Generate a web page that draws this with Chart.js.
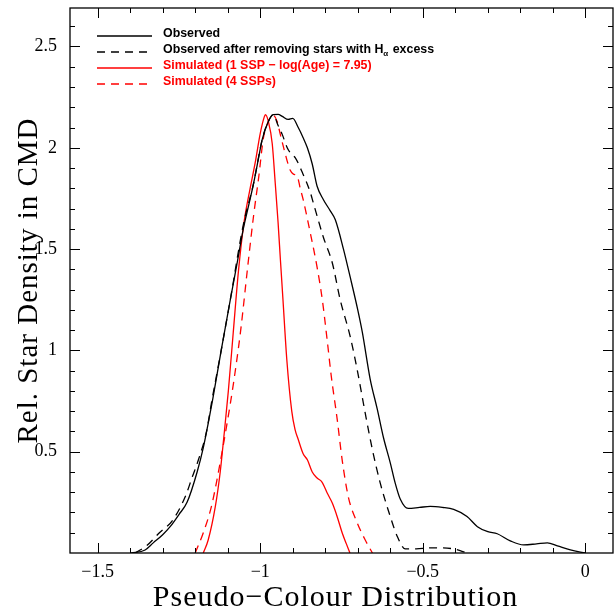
<!DOCTYPE html>
<html>
<head>
<meta charset="utf-8">
<script src="https://cdn.jsdelivr.net/npm/chart.js@4/dist/chart.umd.min.js"></script>
<style>
  html, body { margin: 0; padding: 0; background: #fff; }
  canvas { display: block; }
</style>
</head>
<body>
<canvas id="c" width="614" height="608"></canvas>
<script>
// Observed
const obsX = [-1.397, -1.354, -1.329, -1.300, -1.277, -1.250, -1.225, -1.194, -1.175, -1.160,
  -1.146, -1.120, -1.092, -1.070, -1.052, -1.035, -1.021, -1.005, -0.994, -0.975,
  -0.960, -0.945, -0.932, -0.914, -0.900, -0.883, -0.868, -0.855, -0.840, -0.825,
  -0.806, -0.785, -0.769, -0.744, -0.723, -0.700, -0.686, -0.662, -0.640, -0.621,
  -0.600, -0.585, -0.569, -0.545, -0.510, -0.477, -0.440, -0.405, -0.364, -0.332,
  -0.300, -0.271, -0.231, -0.190, -0.150, -0.117, -0.086, -0.046, 0.000];
const obsY = [0, 0.015, 0.05, 0.09, 0.13, 0.19, 0.25, 0.40, 0.52, 0.64,
  0.76, 1.00, 1.25, 1.44, 1.60, 1.72, 1.82, 1.95, 2.04, 2.13,
  2.164, 2.165, 2.155, 2.14, 2.145, 2.10, 2.05, 2.00, 1.92, 1.81,
  1.745, 1.69, 1.645, 1.50, 1.36, 1.20, 1.09, 0.86, 0.71, 0.57,
  0.445, 0.346, 0.265, 0.22, 0.225, 0.23, 0.225, 0.215, 0.18, 0.13,
  0.105, 0.095, 0.06, 0.04, 0.045, 0.05, 0.035, 0.015, 0];

// Observed after removing H-alpha excess stars
const obsHaX = [-1.385, -1.350, -1.310, -1.270, -1.230, -1.209, -1.190, -1.165, -1.150, -1.120,
  -1.092, -1.052, -1.021, -0.994, -0.975, -0.960, -0.945, -0.932, -0.917, -0.905,
  -0.892, -0.871, -0.846, -0.837, -0.806, -0.778, -0.754, -0.723, -0.700, -0.677,
  -0.655, -0.631, -0.600, -0.578, -0.554, -0.520, -0.477, -0.440, -0.405, -0.363];
const obsHaY = [0, 0.035, 0.10, 0.16, 0.28, 0.375, 0.46, 0.60, 0.74, 1.00,
  1.25, 1.62, 1.82, 2.04, 2.13, 2.164, 2.11, 2.065, 2.00, 1.97,
  1.95, 1.88, 1.78, 1.73, 1.56, 1.43, 1.25, 1.067, 0.89, 0.69,
  0.51, 0.346, 0.18, 0.08, 0.02, 0.02, 0.025, 0.025, 0.02, 0];

// Simulated, 1 SSP
const ssp1X = [-1.175, -1.160, -1.138, -1.123, -1.112, -1.098, -1.083, -1.067, -1.050, -1.031,
  -1.015, -1.000, -0.988, -0.984, -0.975, -0.963, -0.954, -0.945, -0.938, -0.930,
  -0.918, -0.903, -0.893, -0.883, -0.868, -0.855, -0.840, -0.825, -0.810, -0.794,
  -0.778, -0.763, -0.748, -0.735, -0.724];
const ssp1Y = [0, 0.064, 0.23, 0.40, 0.57, 0.80, 1.087, 1.39, 1.63, 1.80,
  1.93, 2.07, 2.15, 2.164, 2.13, 2.02, 1.83, 1.63, 1.45, 1.25,
  0.95, 0.70, 0.61, 0.56, 0.49, 0.46, 0.40, 0.37, 0.35, 0.296,
  0.245, 0.178, 0.10, 0.045, 0];

// Simulated, 4 SSPs
const ssp4X = [-1.200, -1.175, -1.150, -1.125, -1.103, -1.082, -1.060, -1.038, -1.020, -1.005,
  -0.990, -0.975, -0.960, -0.948, -0.938, -0.923, -0.908, -0.898, -0.886, -0.877,
  -0.868, -0.846, -0.825, -0.809, -0.794, -0.782, -0.763, -0.748, -0.729, -0.702,
  -0.677, -0.655];
const ssp4Y = [0, 0.10, 0.23, 0.43, 0.63, 0.84, 1.10, 1.42, 1.67, 1.85,
  2.05, 2.13, 2.16, 2.13, 2.065, 1.97, 1.89, 1.87, 1.86, 1.80,
  1.745, 1.58, 1.41, 1.25, 1.05, 0.88, 0.657, 0.46, 0.277, 0.15,
  0.064, 0];

const xTickVals = [-1.5, -1, -0.5, 0];
const yTickVals = [0.5, 1, 1.5, 2, 2.5];
const xTitle = "Pseudo\u2212Colour Distribution";
const yTitle = "Rel. Star Density in CMD";

const RED = "#ff0000";
const DASH = [8, 6];

function pts(xs, ys) {
  return xs.map((x, i) => ({ x: x, y: ys[i] }));
}

function series(label, xs, ys, color, dash) {
  return {
    label: label,
    data: pts(xs, ys),
    borderColor: color,
    borderWidth: 1.3,
    borderDash: dash,
    pointRadius: 0,
    fill: false,
    cubicInterpolationMode: "monotone",
  };
}

// frame with inward ticks on all four sides, axis titles, legend
const decor = {
  id: "decor",
  afterDraw(chart) {
    const ctx = chart.ctx;
    const a = chart.chartArea;
    const xs = chart.scales.x, ys = chart.scales.y;
    ctx.save();
    ctx.strokeStyle = "#000";
    ctx.lineWidth = 1.3;
    ctx.setLineDash([]);
    ctx.strokeRect(a.left, a.top, a.right - a.left, a.bottom - a.top);

    ctx.lineWidth = 1;
    ctx.beginPath();
    for (let i = -16; i <= 1; i++) {
      const v = i / 10;
      if (v < xs.min || v > xs.max) continue;
      const px = Math.round(xs.getPixelForValue(v)) + 0.5;
      const len = i % 5 === 0 ? 10 : 5;
      ctx.moveTo(px, a.bottom); ctx.lineTo(px, a.bottom - len);
      ctx.moveTo(px, a.top); ctx.lineTo(px, a.top + len);
    }
    for (let i = 1; i <= 27; i++) {
      const v = i / 10;
      if (v > ys.max) continue;
      const py = Math.round(ys.getPixelForValue(v)) + 0.5;
      const len = i % 5 === 0 ? 10 : 5;
      ctx.moveTo(a.left, py); ctx.lineTo(a.left + len, py);
      ctx.moveTo(a.right, py); ctx.lineTo(a.right - len, py);
    }
    ctx.stroke();

    // axis titles
    ctx.fillStyle = "#000";
    ctx.textAlign = "center";
    ctx.textBaseline = "alphabetic";
    ctx.font = "30px 'Liberation Serif'";
    ctx.letterSpacing = "1px";
    ctx.fillText(xTitle, (a.left + a.right) / 2 - 6, 606);
    ctx.save();
    ctx.translate(37, (a.top + a.bottom) / 2);
    ctx.rotate(-Math.PI / 2);
    ctx.font = "29px 'Liberation Serif'";
    ctx.letterSpacing = "1px";
    ctx.fillText(yTitle, 0, 0);
    ctx.restore();
    ctx.letterSpacing = "0px";

    // legend
    const rows = [34, 50, 66, 82];
    ctx.textAlign = "left";
    ctx.textBaseline = "middle";
    chart.data.datasets.forEach((ds, i) => {
      const y = rows[i];
      ctx.strokeStyle = ds.borderColor;
      ctx.lineWidth = 1.3;
      ctx.setLineDash(ds.borderDash || []);
      ctx.beginPath();
      ctx.moveTo(97, y + 2);
      ctx.lineTo(152, y + 2);
      ctx.stroke();
      ctx.setLineDash([]);
      ctx.fillStyle = ds.borderColor;
      ctx.font = "bold 12.4px 'Liberation Sans'";
      if (ds.label.indexOf("H_a") >= 0) {
        const parts = ds.label.split("H_a");
        let x = 163;
        ctx.fillText(parts[0] + "H", x, y);
        x += ctx.measureText(parts[0] + "H").width;
        ctx.font = "bold 8px 'Liberation Sans'";
        ctx.fillText("\u03b1", x, y + 4);
        x += ctx.measureText("\u03b1").width + 1;
        ctx.font = "bold 12.4px 'Liberation Sans'";
        ctx.fillText(parts[1], x, y);
      } else {
        ctx.fillText(ds.label, 163, y);
      }
    });
    ctx.restore();
  },
};

const tickFont = { family: "'Liberation Serif'", size: 18 };

new Chart(document.getElementById("c").getContext("2d"), {
  type: "line",
  data: {
    datasets: [
      series("Observed", obsX, obsY, "#000", []),
      series("Observed after removing stars with H_a excess", obsHaX, obsHaY, "#000", DASH),
      series("Simulated (1 SSP \u2212 log(Age) = 7.95)", ssp1X, ssp1Y, RED, []),
      series("Simulated (4 SSPs)", ssp4X, ssp4Y, RED, DASH),
    ],
  },
  options: {
    responsive: false,
    animation: false,
    layout: { padding: { top: 8, right: 1, left: 0, bottom: 0 } },
    plugins: { legend: { display: false }, tooltip: { enabled: false } },
    scales: {
      x: {
        type: "linear",
        min: -1.585,
        max: 0.085,
        afterFit: (s) => { s.height = 55; s.paddingLeft = 0; s.paddingRight = 0; },
        grid: { display: false, drawTicks: false },
        border: { display: false },
        afterBuildTicks: (s) => { s.ticks = xTickVals.map((v) => ({ value: v })); },
        ticks: {
          padding: 8,
          color: "#000",
          font: tickFont,
          maxRotation: 0,
          callback: (v) => String(v).replace("-", "\u2212"),
        },
      },
      y: {
        type: "linear",
        min: 0,
        max: 2.69,
        afterFit: (s) => { s.width = 70; s.paddingTop = 0; s.paddingBottom = 0; },
        grid: { display: false, drawTicks: false },
        border: { display: false },
        afterBuildTicks: (s) => { s.ticks = yTickVals.map((v) => ({ value: v })); },
        ticks: {
          padding: 13,
          color: "#000",
          font: tickFont,
          callback: (v) => String(v),
        },
      },
    },
  },
  plugins: [decor],
});
</script>
</body>
</html>
